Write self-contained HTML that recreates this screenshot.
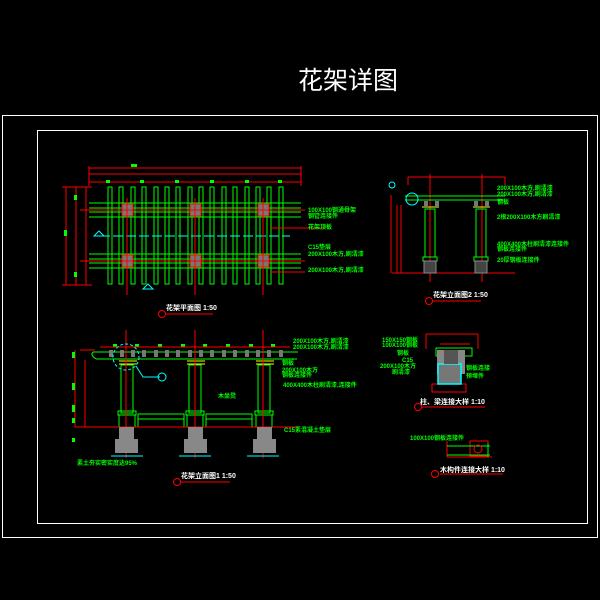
<!DOCTYPE html>
<html><head><meta charset="utf-8"><style>
html,body{margin:0;padding:0;background:#000;width:600px;height:600px;overflow:hidden}
svg{display:block}
text{font-family:"Liberation Sans","Noto Sans CJK SC",sans-serif}
.g{stroke:#0f0;fill:none;stroke-width:1}
.r{stroke:#f00;fill:none;stroke-width:1}
.c{stroke:#0ff;fill:none;stroke-width:1}
.t{fill:#0f0;font-size:6px;font-weight:bold}
.w{fill:#fff;font-size:7px;font-weight:bold}
</style></head><body>
<svg width="600" height="600" viewBox="0 0 600 600">
<text x="298" y="89" fill="#fff" font-size="25" font-family="Liberation Sans,Noto Sans CJK SC,sans-serif">花架详图</text>
<rect x="2.5" y="115.5" width="595" height="422" fill="none" stroke="#fff"/>
<rect x="37.5" y="130.5" width="550" height="393" fill="none" stroke="#fff"/>

<!-- PLAN 1 -->
<g>
<path class="r" d="M89 168H301M89 174H301M89 182H301M89 166V186M301 166V186M66 187V285M76 187V285M86 187V285M62 187H92M62 285H92"/>
<rect x="131" y="164" width="6" height="3" fill="#0f0"/>
<g fill="#0f0"><rect x="106" y="180" width="4" height="3"/><rect x="140" y="180" width="4" height="3"/><rect x="175" y="180" width="4" height="3"/><rect x="210" y="180" width="4" height="3"/><rect x="245" y="180" width="4" height="3"/><rect x="278" y="180" width="4" height="3"/><rect x="64" y="230" width="3" height="6"/><rect x="74" y="195" width="3" height="5"/><rect x="74" y="272" width="3" height="5"/></g>
<path class="g" d="M89 203H301M89 208H301M89 212H301M89 217H301M89 254H301M89 259H301M89 263H301M89 268H301"/>
<g class="g">
<rect x="108" y="187" width="4" height="97"/><rect x="119" y="187" width="4" height="97"/><rect x="131" y="187" width="4" height="97"/><rect x="142" y="187" width="4" height="97"/><rect x="154" y="187" width="4" height="97"/><rect x="165" y="187" width="4" height="97"/><rect x="176" y="187" width="4" height="97"/><rect x="188" y="187" width="4" height="97"/><rect x="199" y="187" width="4" height="97"/><rect x="210" y="187" width="4" height="97"/><rect x="222" y="187" width="4" height="97"/><rect x="233" y="187" width="4" height="97"/><rect x="245" y="187" width="4" height="97"/><rect x="256" y="187" width="4" height="97"/><rect x="267" y="187" width="4" height="97"/><rect x="279" y="187" width="4" height="97"/>
</g>
<g fill="#777" stroke="#f00"><rect x="122" y="204" width="11" height="12"/><rect x="190" y="204" width="11" height="12"/><rect x="258" y="204" width="11" height="12"/><rect x="122" y="255" width="11" height="12"/><rect x="190" y="255" width="11" height="12"/><rect x="258" y="255" width="11" height="12"/></g>
<path class="c" stroke-dasharray="10 3" d="M100 236H290"/>
<path class="r" d="M127 198V295M195 198V295M263 198V295M80 210H305M80 261H305M270 228H325M270 272H305"/>
<path class="c" fill="#0ff" d="M94 236l5-5 5 5z M143 289l5-5 5 5z"/>
<text class="t" x="308" y="212">100X100钢通骨架</text><text class="t" x="308" y="218">钢管连接件</text>
<text class="t" x="308" y="229">花架顶板</text>
<text class="t" x="308" y="249">C15垫层</text><text class="t" x="308" y="256">200X100木方,刷清漆</text>
<text class="t" x="308" y="272">200X100木方,刷清漆</text>
<text class="w" x="166" y="310">花架平面图 1:50</text>
<circle cx="162" cy="314" r="3.5" fill="none" stroke="#f00"/><path class="r" d="M166 314H213" stroke-width="2"/>
</g>

<!-- ELEVATION 2 -->
<g>
<path class="g" d="M93 352H298M96 359H297M93 352Q90 355 96 359"/>
<g fill="#777"><rect x="109" y="350" width="4" height="7"/><rect x="120" y="350" width="4" height="7"/><rect x="131" y="350" width="4" height="7"/><rect x="142" y="350" width="4" height="7"/><rect x="154" y="350" width="4" height="7"/><rect x="165" y="350" width="4" height="7"/><rect x="176" y="350" width="4" height="7"/><rect x="188" y="350" width="4" height="7"/><rect x="199" y="350" width="4" height="7"/><rect x="210" y="350" width="4" height="7"/><rect x="222" y="350" width="4" height="7"/><rect x="233" y="350" width="4" height="7"/><rect x="245" y="350" width="4" height="7"/><rect x="256" y="350" width="4" height="7"/><rect x="267" y="350" width="4" height="7"/><rect x="279" y="350" width="4" height="7"/></g>
<g fill="#0f0"><rect x="113" y="344" width="4" height="3"/><rect x="135" y="344" width="4" height="3"/><rect x="158" y="344" width="4" height="3"/><rect x="181" y="344" width="4" height="3"/><rect x="203" y="344" width="4" height="3"/><rect x="226" y="344" width="4" height="3"/><rect x="249" y="344" width="4" height="3"/><rect x="271" y="344" width="4" height="3"/></g>
<path class="r" d="M100 347H290"/>
<path stroke="#ff0" fill="none" d="M119 361H137M119 364H137M187 361H205M187 364H205M256 361H274M256 364H274"/>
<g class="g"><rect x="121" y="365" width="12" height="48"/><rect x="189" y="365" width="12" height="48"/><rect x="258" y="365" width="12" height="48"/>
<rect x="118" y="411" width="18" height="4"/><rect x="186" y="411" width="18" height="4"/><rect x="255" y="411" width="18" height="4"/>
<rect x="138" y="414" width="46" height="13"/><rect x="206" y="414" width="46" height="13"/><path d="M138 419H184M206 419H252M119 415V427M135 415V427M187 415V427M203 415V427M256 415V427M272 415V427"/></g>
<path class="r" d="M126 330V458M195 330V458M263 330V458M75 427H298M75 350V427M80 350H95M85 360V427"/>
<g fill="#888"><rect x="119" y="427" width="15" height="12"/><rect x="115" y="439" width="23" height="14"/><rect x="188" y="427" width="15" height="12"/><rect x="184" y="439" width="23" height="14"/><rect x="257" y="427" width="15" height="12"/><rect x="253" y="439" width="23" height="14"/></g>
<path class="c" d="M111 456H143M179 456H211M247 456H279"/>
<circle cx="126" cy="357" r="13" class="c" stroke-dasharray="3 2"/><path class="c" d="M136 366L143 377H160"/><circle cx="162" cy="377" r="4" class="c" stroke="#0f0"/>
<g fill="#0f0"><rect x="72" y="352" width="3" height="6"/><rect x="72" y="383" width="3" height="7"/><rect x="72" y="405" width="3" height="7"/><rect x="72" y="418" width="3" height="5"/><rect x="72" y="438" width="3" height="4"/></g>
<text class="t" x="293" y="343">200X100木方,刷清漆</text><text class="t" x="293" y="349">200X100木方,刷清漆</text>
<text class="t" x="282" y="365">钢板</text><text class="t" x="282" y="372">200X100木方</text><text class="t" x="282" y="377">钢板连接件</text>
<text class="t" x="283" y="387">400X400木柱刷清漆,连接件</text>
<text class="t" x="218" y="398">木坐凳</text>
<text class="t" x="284" y="432">C15素混凝土垫层</text>
<text class="t" x="77" y="465">素土夯实密实度达95%</text>
<text class="w" x="181" y="478">花架立面图1 1:50</text>
<circle cx="177" cy="482" r="3.5" fill="none" stroke="#f00"/><path class="r" d="M181 482H230" stroke-width="2"/>
</g>

<!-- ELEVATION 3 -->
<g>
<path class="r" d="M408 177H505M408 177V185M505 177V185M430 174V282M482 174V282M391 195V273M397 205V273M401 205V273M392 273H515"/>
<path class="g" d="M405 196H505M405 200H505"/>
<path stroke="#ff0" fill="none" d="M422 207H439M473 207H490"/>
<g fill="#777"><rect x="424" y="201" width="4" height="6"/><rect x="435" y="201" width="4" height="6"/><rect x="474" y="201" width="4" height="6"/><rect x="485" y="201" width="4" height="6"/></g>
<g class="g"><rect x="425" y="209" width="10" height="48"/><rect x="476" y="209" width="10" height="48"/><rect x="423" y="257" width="14" height="4"/><rect x="474" y="257" width="14" height="4"/></g>
<g fill="#444" stroke="#888"><rect x="424" y="261" width="12" height="12"/><rect x="475" y="261" width="12" height="12"/></g>
<circle cx="412" cy="199" r="6" class="c"/><circle cx="392" cy="185" r="3" class="c" stroke="#0f0"/>
<text class="t" x="497" y="190">200X100木方,刷清漆</text><text class="t" x="497" y="196">200X100木方,刷清漆</text>
<text class="t" x="497" y="204">钢板</text><text class="t" x="497" y="219">2根200X100木方刷清漆</text>
<text class="t" x="497" y="246">400X400木柱刷清漆连接件</text><text class="t" x="497" y="251">钢板连接件</text>
<text class="t" x="497" y="262">20厚钢板连接件</text>
<text class="w" x="433" y="297">花架立面图2 1:50</text>
<circle cx="429" cy="301" r="3.5" fill="none" stroke="#f00"/><path class="r" d="M433 301H481"/>
</g>

<!-- DETAIL 4 -->
<g>
<path class="r" d="M426 334H478M426 334V349M478 334V349M440 344H470M432 384H466V392H432z"/>
<rect x="436" y="348" width="36" height="8" fill="none" stroke="#0f0"/>
<rect x="437" y="350" width="7" height="24" fill="#888"/><rect x="458" y="350" width="7" height="24" fill="#888"/>
<rect x="438" y="364" width="23" height="20" fill="#777" stroke="#0ff" stroke-width="1.5"/>
<rect x="444" y="350" width="14" height="14" fill="#555"/>
<text class="t" x="382" y="342">150X150钢板</text><text class="t" x="382" y="347">100X100钢板</text><text class="t" x="397" y="355">钢板</text><text class="t" x="402" y="362">C15</text><text class="t" x="380" y="368">200X100木方</text><text class="t" x="392" y="374">刷清漆</text>
<text class="t" x="466" y="370">钢板连接</text><text class="t" x="466" y="378">预埋件</text>
<text class="w" x="420" y="404">柱、梁连接大样 1:10</text>
<circle cx="418" cy="407" r="3.5" fill="none" stroke="#f00"/><path class="r" d="M422 407H485"/>
</g>

<!-- DETAIL 5 -->
<g>
<text class="t" x="410" y="440">100X100钢板连接件</text>
<path class="r" d="M447 441V457M447 457H492M470 441H488V456H470z"/>
<path class="g" d="M447 455H490M447 446H490M488 443V457"/>
<circle cx="478" cy="449" r="4" class="r"/>
<text class="w" x="440" y="472">木构件连接大样 1:10</text>
<circle cx="435" cy="474" r="3.5" fill="none" stroke="#f00"/><path class="r" d="M440 474H503" stroke-width="2"/>
</g>
</svg>
</body></html>
